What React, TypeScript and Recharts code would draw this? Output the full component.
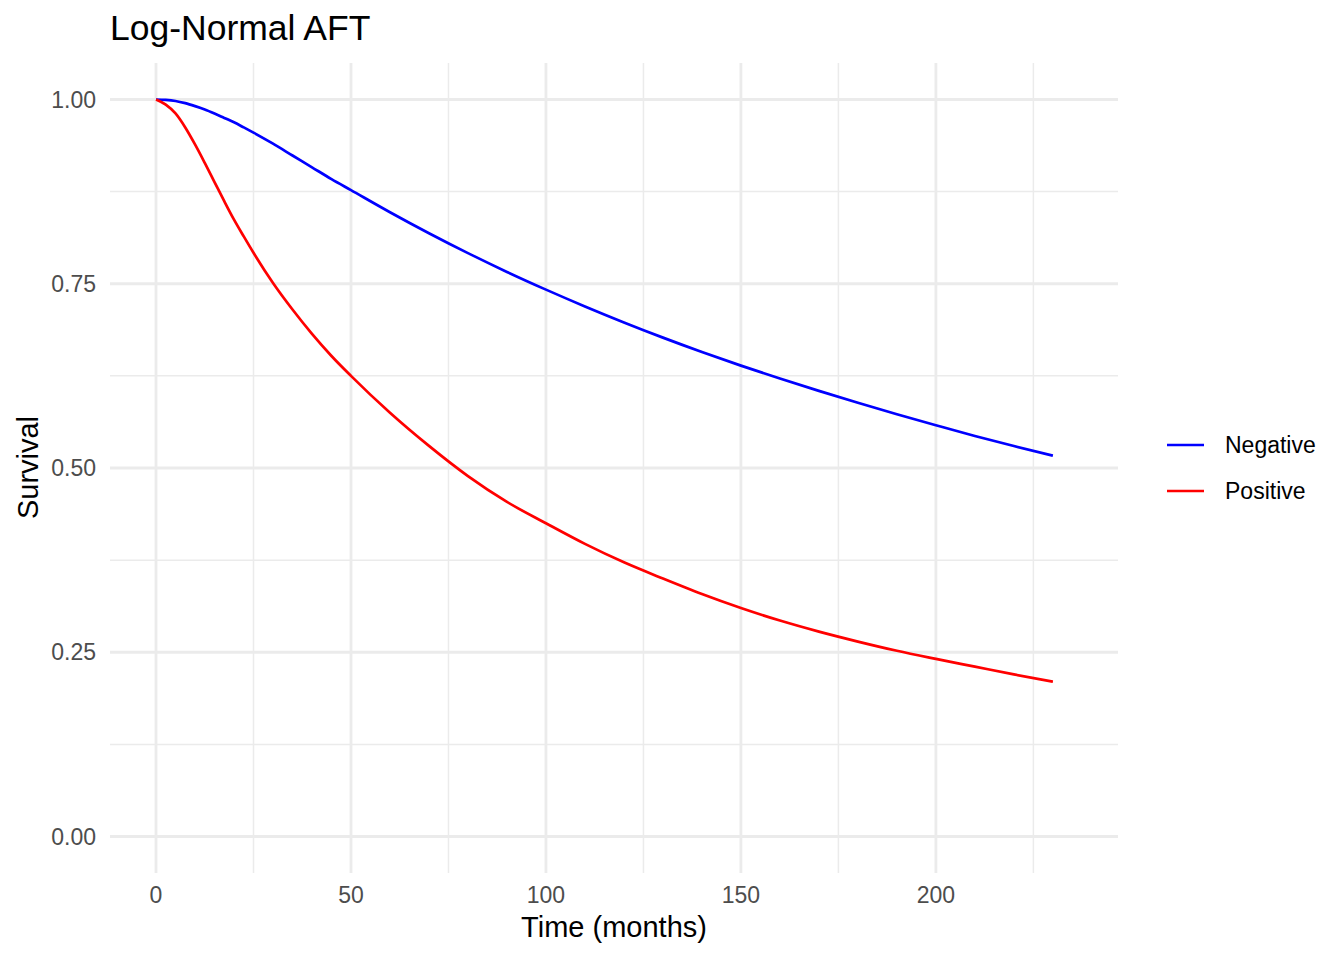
import { LineChart, Line, XAxis, YAxis, CartesianGrid, Legend } from 'recharts'

// survival curves
const TIME = [0, 2.5, 5, 7.5, 10, 12.5, 15, 17.5, 20, 22.5, 25, 30, 35, 40, 45, 50, 60, 70, 80, 90, 100, 110, 120, 130, 140, 150, 160, 170, 180, 190, 200, 210, 220, 230]
const NEGATIVE = [1.0, 0.9995, 0.998, 0.995, 0.991, 0.9865, 0.981, 0.975, 0.969, 0.9621, 0.955, 0.94, 0.924, 0.908, 0.892, 0.877, 0.847, 0.8185, 0.7915, 0.766, 0.742, 0.7192, 0.6975, 0.6769, 0.6574, 0.6389, 0.6214, 0.6046, 0.5885, 0.573, 0.5581, 0.5435, 0.5298, 0.5168]
const POSITIVE = [1.0, 0.993, 0.981, 0.962, 0.939, 0.914, 0.888, 0.862, 0.837, 0.8142, 0.792, 0.751, 0.715, 0.682, 0.652, 0.625, 0.575, 0.53, 0.489, 0.454, 0.425, 0.397, 0.372, 0.35, 0.329, 0.31, 0.293, 0.278, 0.2645, 0.252, 0.241, 0.2305, 0.22, 0.21]

const X_TICKS = [0, 50, 100, 150, 200]
const X_MINOR = [25, 75, 125, 175, 225]
const Y_TICKS = [0, 0.25, 0.5, 0.75, 1]
const Y_MINOR = [0.125, 0.375, 0.625, 0.875]
const X_DOMAIN = [-11.8, 246.7]
const Y_DOMAIN = [-0.0495, 1.0495]

const data = TIME.map((t, i) => ({ t, Negative: NEGATIVE[i], Positive: POSITIVE[i] }))

const FONT = '"Liberation Sans", Arial, Helvetica, sans-serif'
const GRID = '#EBEBEB'
const tickStyle = { fill: '#4D4D4D', fontSize: 23, fontFamily: FONT }

function LegendBox({ payload }: { payload?: { value: string; color: string }[] }) {
  return (
    <div style={{ fontFamily: FONT, fontSize: 23, color: '#000' }}>
      {(payload ?? []).map((p) => (
        <div key={p.value} style={{ height: 46, display: 'flex', alignItems: 'center' }}>
          <svg width={37} height={6} style={{ marginRight: 21 }}>
            <line x1={0} x2={37} y1={3} y2={3} stroke={p.color} strokeWidth={2.7} />
          </svg>
          <span>{p.value}</span>
        </div>
      ))}
    </div>
  )
}

export default function App() {
  return (
    <div style={{ position: 'relative', width: 1344, height: 960, margin: '-8px 0 0 -8px', background: '#fff', fontFamily: FONT }}>
      <LineChart width={1344} height={960} data={data} margin={{ top: 63, right: 226, left: 0, bottom: 0 }}>
        {/* minor grid first, then major on top */}
        <CartesianGrid verticalValues={X_MINOR} horizontalValues={Y_MINOR} stroke={GRID} strokeWidth={1.5} />
        <CartesianGrid verticalValues={X_TICKS} horizontalValues={Y_TICKS} stroke={GRID} strokeWidth={2.8} />
        <XAxis
          type="number"
          dataKey="t"
          domain={X_DOMAIN}
          ticks={X_TICKS}
          allowDataOverflow
          axisLine={false}
          tickLine={false}
          tickSize={0}
          tickMargin={14}
          height={87}
          tick={tickStyle}
        />
        <YAxis
          type="number"
          domain={Y_DOMAIN}
          ticks={Y_TICKS}
          allowDataOverflow
          axisLine={false}
          tickLine={false}
          tickSize={0}
          tickMargin={14}
          width={110}
          tick={tickStyle}
          tickFormatter={(v: number) => v.toFixed(2)}
        />
        <Legend
          layout="horizontal"
          align="center"
          verticalAlign="middle"
          content={<LegendBox />}
          wrapperStyle={{ left: 1167, top: 422, width: 177 }}
        />
        <Line type="monotone" dataKey="Negative" name="Negative" stroke="#0000FF" strokeWidth={2.7} dot={false} activeDot={false} isAnimationActive={false} />
        <Line type="monotone" dataKey="Positive" name="Positive" stroke="#FF0000" strokeWidth={2.7} dot={false} activeDot={false} isAnimationActive={false} />
      </LineChart>

      <div style={{ position: 'absolute', left: 110, top: 11, fontSize: 35.5, lineHeight: '35px', color: '#000', whiteSpace: 'nowrap' }}>
        Log-Normal AFT
      </div>
      <div style={{ position: 'absolute', left: 414, width: 400, top: 913, fontSize: 29, lineHeight: '29px', textAlign: 'center', color: '#000' }}>
        Time (months)
      </div>
      <div style={{ position: 'absolute', left: -72, width: 200, top: 453, height: 29, fontSize: 29, lineHeight: '29px', textAlign: 'center', color: '#000', transform: 'rotate(-90deg)' }}>
        Survival
      </div>
    </div>
  )
}
